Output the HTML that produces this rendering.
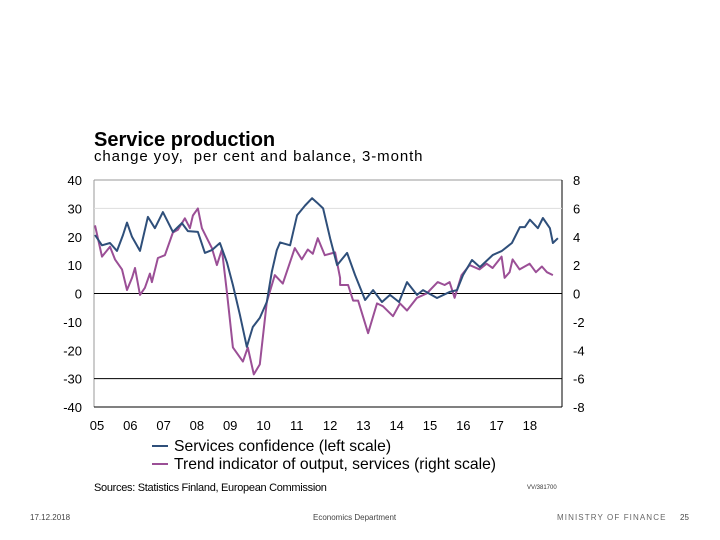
<!DOCTYPE html>
<html><head><meta charset="utf-8">
<style>
body{margin:0;background:#fff;}
#wrap{position:relative;width:720px;height:540px;overflow:hidden;background:#fff;font-family:"Liberation Sans",sans-serif;}
.t{position:absolute;white-space:nowrap;color:#000;}
</style></head><body>
<div id="wrap">
<div class="t" style="left:94px;top:129px;font-size:20px;font-weight:bold;">Service production</div>
<div class="t" style="left:94px;top:148px;font-size:15px;letter-spacing:0.9px;">change yoy,&nbsp; per cent and balance, 3-month</div>
<svg id="chart" width="720" height="540" style="position:absolute;left:0;top:0;" font-family="Liberation Sans, sans-serif"></svg>
<div class="t" style="left:94px;top:482px;font-size:11px;letter-spacing:-0.3px;">Sources: Statistics Finland, European Commission</div>
<div class="t" style="left:527px;top:485px;font-size:6px;color:#333;">VV/381700</div>
<div class="t" style="left:30px;top:513px;font-size:8px;color:#444;">17.12.2018</div>
<div class="t" style="left:313px;top:513px;font-size:8px;color:#444;">Economics Department</div>
<div class="t" style="left:557px;top:513px;font-size:8px;color:#666;letter-spacing:1.1px;">MINISTRY OF FINANCE</div>
<div class="t" style="left:680px;top:513px;font-size:8px;color:#444;">25</div>
</div>
<script>
const leftTicks=[40,30,20,10,0,-10,-20,-30,-40];
const rightTicks=[8,6,4,2,0,-2,-4,-6,-8];
const yearLabels=["05","06","07","08","09","10","11","12","13","14","15","16","17","18"];
const blueDates=[2005.03,2005.24,2005.48,2005.69,2005.87,2005.99,2006.14,2006.38,2006.62,2006.83,2007.07,2007.37,2007.64,2007.82,2008.12,2008.33,2008.54,2008.78,2008.99,2009.17,2009.38,2009.59,2009.77,2009.98,2010.19,2010.34,2010.49,2010.59,2010.89,2011.1,2011.34,2011.55,2011.7,2011.88,2012.09,2012.30,2012.6,2012.84,2013.14,2013.38,2013.65,2013.89,2014.16,2014.40,2014.7,2014.88,2015.30,2015.69,2015.90,2016.08,2016.35,2016.59,2016.98,2017.25,2017.55,2017.79,2017.94,2018.09,2018.33,2018.48,2018.69,2018.78,2018.93];
const blueValues=[20.6,17,17.8,15,20.6,25,20,15,27,23,28.7,21.7,24.8,22,21.7,14.3,15.3,17.8,11,3,-7.5,-18.8,-11.8,-8.6,-3,7.6,15.3,18,17,27.6,31,33.6,32,30,19.5,10,14.3,6.5,-2.3,1.2,-3,-0.5,-3,4,-0.5,1.2,-1.6,0.6,1.2,6.5,11.8,9.3,13.6,15,17.8,23.4,23.4,26,23,26.6,23,17.8,19.5,17.8];
const purpleDates=[2005.03,2005.24,2005.48,2005.63,2005.84,2005.99,2006.14,2006.23,2006.38,2006.53,2006.68,2006.74,2006.92,2007.13,2007.37,2007.52,2007.73,2007.88,2007.97,2008.12,2008.24,2008.39,2008.54,2008.69,2008.84,2008.99,2009.17,2009.47,2009.62,2009.80,2009.98,2010.19,2010.43,2010.67,2011.03,2011.24,2011.42,2011.57,2011.72,2011.93,2012.24,2012.39,2012.39,2012.63,2012.78,2012.93,2013.23,2013.50,2013.68,2013.98,2014.19,2014.40,2014.70,2014.99,2015.32,2015.53,2015.68,2015.83,2016.04,2016.28,2016.58,2016.79,2016.97,2017.24,2017.33,2017.48,2017.57,2017.78,2018.08,2018.27,2018.45,2018.60,2018.78];
const purpleValues=[4.8,2.6,3.3,2.4,1.7,0.25,1.1,1.8,-0.1,0.4,1.4,0.8,2.5,2.7,4.3,4.5,5.3,4.6,5.5,6,4.6,3.9,3.2,2,3.1,0.1,-3.8,-4.8,-3.8,-5.7,-5,-0.6,1.3,0.7,3.2,2.4,3.1,2.8,3.9,2.7,2.9,1.1,0.6,0.6,-0.5,-0.5,-2.8,-0.7,-0.9,-1.6,-0.7,-1.2,-0.3,0,0.8,0.6,0.8,-0.3,1.3,2,1.7,2.1,1.8,2.6,1.1,1.5,2.4,1.7,2.1,1.5,1.9,1.5,1.3];

const NS="http://www.w3.org/2000/svg";
const svg=document.getElementById('chart');
const X0=94,X1=562,Y0=180,Y1=407;
function xScale(t){return X0+(t-2005)*33.3;}
function yLeft(v){return Y0+(40-v)/80*(Y1-Y0);}
function yRight(v){return Y0+(8-v)/16*(Y1-Y0);}
function mk(tag,attrs){const e=document.createElementNS(NS,tag);for(const k in attrs)e.setAttribute(k,attrs[k]);svg.appendChild(e);return e;}

let g=mk('line',{x1:X0,x2:X1,y1:Y0,y2:Y0,stroke:'#999','stroke-width':1});


g=mk('line',{x1:X0,x2:X0,y1:Y0,y2:Y1,stroke:'#999','stroke-width':1});


g=mk('line',{x1:X1,x2:X1,y1:Y0,y2:Y1,stroke:'#000','stroke-width':1});


leftTicks.forEach(v=>{
  const y=yLeft(v);
  let col=null;
  if(v===30)col='#ddd';
  if(v===0||v===-30||v===-40)col='#000';
  if(col){
    const l=mk('line',{x1:X0,x2:X1,y1:y,y2:y,stroke:col,'stroke-width':1});
    
    
  }
  const t=mk('text',{x:82,y:y+5,'text-anchor':'end','font-size':13});
  t.textContent=String(v);
  
  
});
rightTicks.forEach(v=>{
  const t=mk('text',{x:573,y:yRight(v)+5,'font-size':13});
  t.textContent=String(v);
  
  
});
yearLabels.forEach((s,i)=>{
  const t=mk('text',{x:xScale(2005+i)+3,y:430,'font-size':13,'text-anchor':'middle'});
  t.textContent=s;
  
  
});
function pathD(ds,vs,fy){return ds.map((d,i)=>(i?'L':'M')+xScale(d).toFixed(1)+','+fy(vs[i]).toFixed(1)).join(' ');}
let p=mk('path',{d:pathD(purpleDates,purpleValues,yRight),fill:'none',stroke:'#9b4f96','stroke-width':2,'stroke-linejoin':'round'});


p=mk('path',{d:pathD(blueDates,blueValues,yLeft),fill:'none',stroke:'#2f4f7a','stroke-width':2,'stroke-linejoin':'round'});



const leg=[['#2f4f7a','Services confidence (left scale)',446],['#9b4f96','Trend indicator of output, services (right scale)',464]];
leg.forEach(([c,s,y])=>{
  const l=mk('line',{x1:152,x2:168,y1:y,y2:y,stroke:c,'stroke-width':2});
  
  
  const t=mk('text',{x:174,y:y+5,'font-size':15.7});
  t.textContent=s;
  
  
});
</script>
</body></html>
